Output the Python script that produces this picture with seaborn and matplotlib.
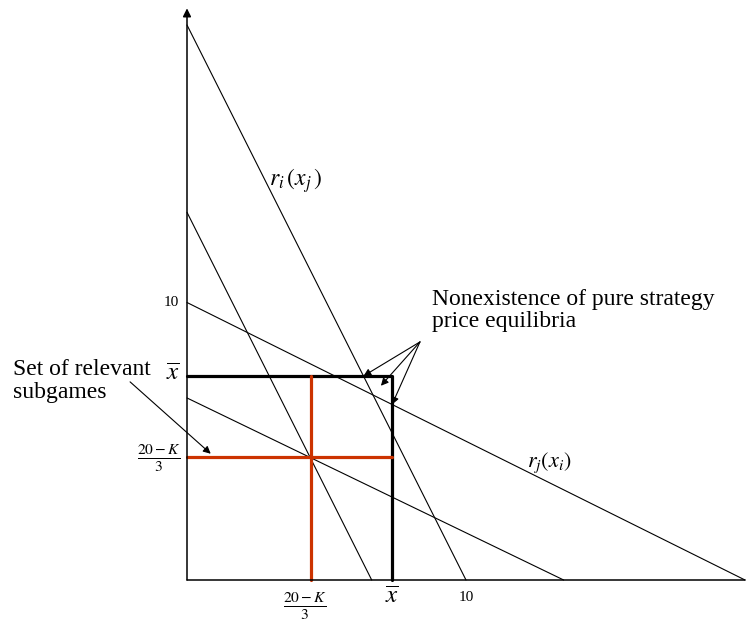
import matplotlib
matplotlib.use("Agg")
import matplotlib.pyplot as plt
import numpy as np
import pandas as pd
import seaborn as sns

# Reaction curves, each given by its two intercepts
ri_names = ["ri", "ri_k"]
ri_y0 = [20.0, 13.25]     # steep curves r_i(x_j): value at x = 0
ri_x0 = [10.0, 6.62]      # ... and where they meet the horizontal axis
rj_names = ["rj", "rj_k"]
rj_y0 = [10.0, 6.56]      # flat curves r_j(x_i)
rj_x0 = [20.0, 13.5]

xbar = 7.35               # capacity bound x-bar
k_val = 4.45              # (20 - K) / 3
axis_end_x = 20.0
axis_end_y = 20.6

sns.set_style("white")
plt.rcParams["font.family"] = ["Liberation Serif", "DejaVu Serif"]
plt.rcParams["mathtext.fontset"] = "stix"
plt.rcParams["text.color"] = "black"

fig = plt.figure(figsize=(7.46, 6.23), dpi=100)
ax = fig.add_axes([0, 0, 1, 1])
sx, sy = 27.9, 27.75
ax.set_xlim(-187 / sx, (746 - 187) / sx)
ax.set_ylim((580 - 623) / sy, 580 / sy)
ax.axis("off")

# reaction curves
rows = []
for n, y0, x0 in zip(ri_names + rj_names, ri_y0 + rj_y0, ri_x0 + rj_x0):
    rows.append({"curve": n, "x": 0.0, "y": y0})
    rows.append({"curve": n, "x": x0, "y": 0.0})
curves = pd.DataFrame(rows)
sns.lineplot(data=curves, x="x", y="y", units="curve", estimator=None,
             sort=False, color="black", lw=0.8, ax=ax, legend=False)

# capacity box
box = pd.DataFrame({"x": [0.0, xbar, xbar], "y": [xbar, xbar, 0.0]})
sns.lineplot(data=box, x="x", y="y", sort=False, estimator=None,
             color="black", lw=2.3, ax=ax)

# relevant subgames
red = pd.DataFrame({"seg": ["h", "h", "v", "v"],
                    "x": [0.0, xbar, k_val, k_val],
                    "y": [k_val, k_val, 0.0, xbar]})
sns.lineplot(data=red, x="x", y="y", units="seg", estimator=None, sort=False,
             color="#cc3300", lw=2.3, ax=ax, legend=False)

# axes
ax.plot([0, axis_end_x], [0, 0], color="black", lw=1.1)
ax.annotate("", xy=(0, axis_end_y), xytext=(0, 0),
            arrowprops=dict(arrowstyle="-|>", color="black", lw=1.1,
                            mutation_scale=12, shrinkA=0, shrinkB=0))

# tick-like labels
ax.text(-0.28, 10, "10", ha="right", va="center", fontsize=11)
ax.text(10, -0.62, "10", ha="center", va="center", fontsize=11)
ax.text(xbar, -0.6, r"$\overline{x}$", ha="center", va="center", fontsize=18)
ax.text(-0.5, xbar + 0.1, r"$\overline{x}$", ha="center", va="center", fontsize=18)
ax.text(k_val - 0.22, -0.95, r"$\frac{20-K}{3}$", ha="center", va="center", fontsize=16)
ax.text(-1.02, k_val - 0.05, r"$\frac{20-K}{3}$", ha="center", va="center", fontsize=16)

# curve labels
ax.text(3.9, 14.4, r"$r_i\,(x_j\,)$", ha="center", va="center", fontsize=17)
ax.text(12.98, 4.22, r"$r_j(x_i)$", ha="center", va="center", fontsize=16)

# annotations
ax.text(8.78, 10.5, "Nonexistence of pure strategy\nprice equilibria",
        ha="left", va="top", fontsize=17, linespacing=1.1)
src = (8.35, 8.58)
targets = [((ri_y0[0] - xbar) / 2, xbar),
           (xbar - 0.4, xbar - 0.35),
           (xbar, rj_y0[0] * (1 - xbar / rj_x0[0]))]
for t in targets:
    ax.annotate("", xy=t, xytext=src,
                arrowprops=dict(arrowstyle="-|>", color="black", lw=0.8,
                                mutation_scale=11, shrinkA=0, shrinkB=0))

ax.text(-6.23, 7.98, "Set of relevant\nsubgames", ha="left", va="top",
        fontsize=17, linespacing=1.15)
ax.annotate("", xy=(0.85, k_val + 0.1), xytext=(-2.04, 7.14),
            arrowprops=dict(arrowstyle="-|>", color="black", lw=0.8,
                            mutation_scale=11, shrinkA=0, shrinkB=0))

fig.savefig("out.png", dpi=100)
